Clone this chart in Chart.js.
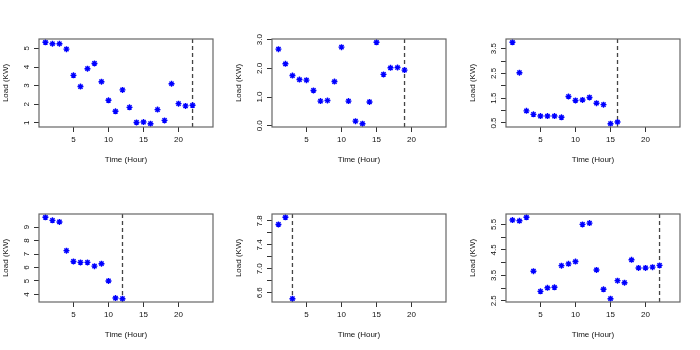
<!DOCTYPE html>
<html>
<head>
<meta charset="utf-8">
<script src="https://cdn.jsdelivr.net/npm/chart.js@4.4.0/dist/chart.umd.min.js"></script>
<style>
  html, body { margin: 0; padding: 0; background: #fff; }
  #wrap { position: relative; width: 700px; height: 350px; }
  #wrap canvas { position: absolute; }
</style>
</head>
<body>
<div id="wrap"></div>
<script>
// === Data ===
const hours = [1, 2, 3, 4, 5, 6, 7, 8, 9, 10, 11, 12, 13, 14, 15, 16, 17, 18, 19, 20, 21, 22];

const load1 = [5.33, 5.25, 5.25, 4.96, 3.55, 2.95, 3.91, 4.19, 3.21, 2.21, 1.62, 2.77, 1.83, 1.02, 1.04, 0.95, 1.71, 1.13, 3.10, 2.03, 1.91, 1.94];
const load2 = [2.67, 2.16, 1.75, 1.61, 1.59, 1.23, 0.86, 0.88, 1.54, 2.74, 0.86, 0.16, 0.07, 0.83, 2.91, 1.79, 2.02, 2.03, 1.94];
const load3 = [3.76, 2.53, 0.99, 0.85, 0.78, 0.78, 0.78, 0.73, 1.57, 1.41, 1.43, 1.53, 1.30, 1.24, 0.47, 0.54];
const load4 = [9.73, 9.50, 9.38, 7.25, 6.45, 6.38, 6.38, 6.10, 6.28, 5.00, 3.73, 3.68];
const load5 = [7.74, 7.86, 6.50];
const load6 = [5.67, 5.64, 5.78, 3.66, 2.87, 3.01, 3.03, 3.88, 3.95, 4.04, 5.50, 5.55, 3.71, 2.95, 2.58, 3.29, 3.21, 4.11, 3.79, 3.79, 3.82, 3.89];

// dashed vertical marker per panel
const cutoffs = [22, 19, 16, 12, 3, 22];

// tick values and labels
const xTicks = [5, 10, 15, 20];
const xTickLabels = ['5', '10', '15', '20'];
const xLimits = [1, 24];

const yTicks1 = [1, 2, 3, 4, 5];
const yTickLabels1 = ['1', '2', '3', '4', '5'];
const yTicks2 = [0, 1, 2, 3];
const yTickLabels2 = ['0.0', '1.0', '2.0', '3.0'];
const yTicks3 = [0.5, 1, 1.5, 2, 2.5, 3, 3.5];
const yTickLabels3 = ['0.5', '', '1.5', '', '2.5', '', '3.5'];
const yTicks4 = [4, 5, 6, 7, 8, 9];
const yTickLabels4 = ['4', '5', '6', '7', '8', '9'];
const yTicks5 = [6.6, 6.8, 7.0, 7.2, 7.4, 7.6, 7.8];
const yTickLabels5 = ['6.6', '', '7.0', '', '7.4', '', '7.8'];
const yTicks6 = [2.5, 3, 3.5, 4, 4.5, 5, 5.5];
const yTickLabels6 = ['2.5', '', '3.5', '', '4.5', '', '5.5'];

const panels = [
  { load: load1, yTicks: yTicks1, yLabels: yTickLabels1 },
  { load: load2, yTicks: yTicks2, yLabels: yTickLabels2 },
  { load: load3, yTicks: yTicks3, yLabels: yTickLabels3 },
  { load: load4, yTicks: yTicks4, yLabels: yTickLabels4 },
  { load: load5, yTicks: yTicks5, yLabels: yTickLabels5 },
  { load: load6, yTicks: yTicks6, yLabels: yTickLabels6 }
];

// === Style ===
const FONT_FAMILY = '"Liberation Sans", Arial, Helvetica, sans-serif';
const FONT_SIZE = 8;
const font = { family: FONT_FAMILY, size: FONT_SIZE };
const textColor = '#111';
const CELL_W = 233, CELL_H = 175;
const LEFT = 39, RIGHT = 20, TOP = 39, BOTTOM = 48;

const measureCtx = document.createElement('canvas').getContext('2d');
measureCtx.font = `normal ${FONT_SIZE}px ${FONT_FAMILY}`;

// R-style 4% range extension
function extend(lo, hi) {
  const pad = 0.04 * (hi - lo);
  return [lo - pad, hi + pad];
}

// box around plot region
const boxPlugin = {
  id: 'box',
  afterDatasetsDraw(chart) {
    const a = chart.chartArea;
    const ctx = chart.ctx;
    ctx.save();
    ctx.strokeStyle = '#666';
    ctx.lineWidth = 1.2;
    ctx.strokeRect(a.left, a.top, a.right - a.left, a.bottom - a.top);
    ctx.restore();
  }
};

const wrap = document.getElementById('wrap');

panels.forEach((p, i) => {
  const canvas = document.createElement('canvas');
  canvas.width = CELL_W;
  canvas.height = CELL_H;
  canvas.style.left = [0, 233, 467][i % 3] + 'px';
  canvas.style.top = (i < 3 ? 0 : 175) + 'px';
  wrap.appendChild(canvas);

  const xs = hours.slice(0, p.load.length);
  const points = xs.map((h, k) => ({ x: h, y: p.load[k] }));
  const [xMin, xMax] = extend(xLimits[0], xLimits[1]);
  const [yMin, yMax] = extend(Math.min(...p.load), Math.max(...p.load));

  const widest = Math.max(...p.yLabels.map(s => measureCtx.measureText(s).width));
  const yPad = 7.5 - widest / 2;

  new Chart(canvas, {
    type: 'scatter',
    data: {
      datasets: [
        {
          data: points,
          pointStyle: 'star',
          pointRadius: 3,
          pointBorderWidth: 1.4,
          pointBorderColor: '#0000ff',
          pointBackgroundColor: '#0000ff'
        },
        {
          data: [{ x: cutoffs[i], y: yMin }, { x: cutoffs[i], y: yMax }],
          showLine: true,
          borderColor: '#444',
          borderWidth: 1.3,
          borderDash: [4, 3],
          pointRadius: 0
        }
      ]
    },
    options: {
      responsive: false,
      animation: false,
      events: [],
      layout: { padding: { top: TOP, right: RIGHT, left: 0, bottom: 0 } },
      plugins: { legend: { display: false }, tooltip: { enabled: false } },
      scales: {
        x: {
          type: 'linear',
          min: xMin,
          max: xMax,
          afterBuildTicks: s => { s.ticks = xTicks.map(v => ({ value: v })); },
          afterFit: s => { s.height = BOTTOM; },
          grid: { drawOnChartArea: false, drawTicks: true, tickLength: 5, color: '#333' },
          border: { display: false },
          ticks: {
            autoSkip: false, maxRotation: 0, minRotation: 0,
            color: textColor, font, padding: 3,
            callback: (v, idx) => xTickLabels[idx]
          },
          title: { display: true, text: 'Time (Hour)', color: textColor, font, padding: { top: 0, bottom: 10 } }
        },
        y: {
          type: 'linear',
          min: yMin,
          max: yMax,
          afterBuildTicks: s => { s.ticks = p.yTicks.map(v => ({ value: v })); },
          afterFit: s => { s.width = LEFT; },
          grid: { drawOnChartArea: false, drawTicks: true, tickLength: 5, color: '#333' },
          border: { display: false },
          ticks: {
            autoSkip: false, minRotation: 90, maxRotation: 90, crossAlign: 'center',
            color: textColor, font, padding: yPad,
            callback: (v, idx) => p.yLabels[idx]
          },
          title: { display: true, text: 'Load (KW)', color: textColor, font, padding: { top: 1, bottom: 0 } }
        }
      }
    },
    plugins: [boxPlugin]
  });
});
</script>
</body>
</html>
